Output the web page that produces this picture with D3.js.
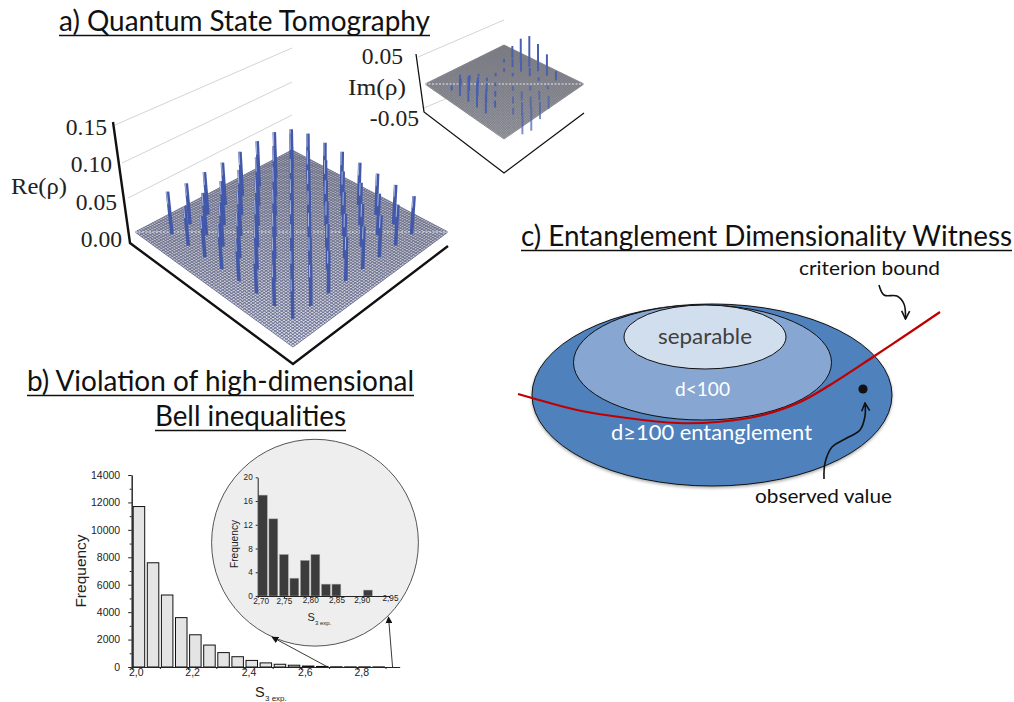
<!DOCTYPE html>
<html>
<head>
<meta charset="utf-8">
<script src="https://cdn.jsdelivr.net/npm/d3@7"></script>
<style>
  html, body { margin: 0; padding: 0; background: #fff; }
  svg { display: block; }
  .hist .domain, .hist line { stroke: #222; }
  .hist text { font-family: "Liberation Sans", sans-serif; fill: #222; }
</style>
</head>
<body>
<svg id="chart" width="1014" height="702"></svg>
<script>
// a) tomography, rows run from the front corner to the left corner, columns to the right corner
const reTicks = [0, 0.05, 0.10, 0.15];
const reValues = [
  [0.052, 0.054, 0.056, 0.058, 0.056, 0.055, 0.054, 0.050],
  [0.054, 0.056, 0.058, 0.060, 0.058, 0.056, 0.055, 0.052],
  [0.056, 0.058, 0.060, 0.060, 0.060, 0.058, 0.056, 0.054],
  [0.056, 0.060, 0.060, 0.062, 0.060, 0.060, 0.058, 0.056],
  [0.060, 0.060, 0.062, 0.062, 0.062, 0.060, 0.060, 0.058],
  [0.054, 0.058, 0.060, 0.062, 0.064, 0.062, 0.060, 0.058],
  [0.052, 0.056, 0.058, 0.060, 0.064, 0.066, 0.070, 0.058],
  [0.056, 0.054, 0.056, 0.056, 0.058, 0.060, 0.060, 0.052]
];
const imTicks = [-0.05, 0.05];
const imValues = [
  [0.000, 0.000, -0.036, -0.040, -0.030, -0.022, 0.000, 0.000],
  [0.000, 0.000, -0.012, -0.022, -0.020, -0.016, -0.006, 0.016],
  [0.034, 0.012, 0.000, -0.012, -0.016, -0.008, 0.006, 0.037],
  [0.043, 0.022, 0.010, 0.000, -0.008, 0.000, 0.014, 0.047],
  [0.043, 0.030, 0.014, 0.006, 0.000, 0.006, 0.018, 0.053],
  [0.037, 0.026, 0.016, 0.006, 0.006, 0.006, 0.014, 0.041],
  [0.009, 0.012, 0.010, 0.004, 0.000, 0.000, 0.006, 0.021],
  [0.000, 0.000, 0.000, 0.000, 0.000, 0.000, 0.000, 0.000]
];

// b) histograms
const histBins = [2.0, 2.05, 2.1, 2.15, 2.2, 2.25, 2.3, 2.35, 2.4, 2.45, 2.5, 2.55, 2.6, 2.65, 2.7, 2.75, 2.8, 2.85];
const histCounts = [11700, 7600, 5250, 3600, 2350, 1600, 1050, 750, 480, 300, 200, 130, 70, 40, 15, 10, 10, 8];
const insetBins = [2.70, 2.72, 2.74, 2.76, 2.78, 2.80, 2.82, 2.84, 2.86, 2.88, 2.90];
const insetCounts = [17, 13, 7, 3, 6, 7, 2, 2, 0, 0, 1];
const insetTicks = [2.70, 2.75, 2.80, 2.85, 2.90, 2.95];

// c) witness diagram, in page units
const setNames = ["outer", "middle", "inner"];
const setCx = [712, 702.5, 705];
const setCy = [395, 362.5, 337];
const setRx = [180, 129, 81];
const setRy = [91, 57.5, 32];
const setFill = ["#4f81bd", "#87a6d1", "#d1deee"];
const boundX = [518, 532, 577, 627, 677, 717, 763, 800, 830, 873, 903, 940];
const boundY = [394, 398, 410, 418, 423, 422, 415, 402, 385, 357, 337, 312];

const svg = d3.select("#chart");
const defs = svg.append("defs");
defs.append("filter").attr("id", "soft").append("feGaussianBlur").attr("stdDeviation", 0.4);
const shadow = defs.append("filter").attr("id", "shadow")
  .attr("x", "-5%").attr("y", "-5%").attr("width", "110%").attr("height", "115%");
shadow.append("feDropShadow").attr("dx", 0).attr("dy", 1.5).attr("stdDeviation", 1.5).attr("flood-opacity", 0.35);
const shade = defs.append("linearGradient").attr("id", "floorShade").attr("x1", 0).attr("y1", 0).attr("x2", 0).attr("y2", 1);
shade.append("stop").attr("offset", "0%").attr("stop-color", "#6f6f78").attr("stop-opacity", 0.5);
shade.append("stop").attr("offset", "100%").attr("stop-color", "#6f6f78").attr("stop-opacity", 0);
defs.append("marker").attr("id", "head").attr("viewBox", "0 0 10 10").attr("refX", 9).attr("refY", 5)
  .attr("markerWidth", 7).attr("markerHeight", 7).attr("markerUnits", "userSpaceOnUse").attr("orient", "auto")
  .append("path").attr("d", "M0,0L10,5L0,10Z").attr("fill", "#111");
defs.append("marker").attr("id", "open").attr("viewBox", "0 0 10 10").attr("refX", 9).attr("refY", 5)
  .attr("markerWidth", 10).attr("markerHeight", 10).attr("markerUnits", "userSpaceOnUse").attr("orient", "auto")
  .append("path").attr("d", "M1,1L9,5L1,9").attr("fill", "none").attr("stroke", "#111").attr("stroke-width", 1.6);

const sans = "Lato, sans-serif";
const serif = "'Liberation Serif', serif";

function label(text, x, y, width, size, fill, font) {
  return svg.append("text").attr("x", x).attr("y", y)
    .attr("textLength", width).attr("lengthAdjust", "spacingAndGlyphs")
    .attr("font-family", font || sans).attr("font-size", size).attr("fill", fill || "#111")
    .text(text);
}
function title(text, x0, x1, y) {
  label(text, x0, y, x1 - x0, 28, "#111");
  svg.append("line").attr("x1", x0).attr("x2", x1).attr("y1", y + 4.5).attr("y2", y + 4.5)
    .attr("stroke", "#111").attr("stroke-width", 1.5);
}

title("a) Quantum State Tomography", 59, 430, 31);
title("b) Violation of high-dimensional", 27, 414, 391);
title("Bell inequalities", 155, 346, 426);
title("c) Entanglement Dimensionality Witness", 521, 1012, 246);

// flat blend of the four floor corners: (0,0)=F, (1,0)=L, (1,1)=B, (0,1)=R
function flatMap(F, L, R, B) {
  const near = d3.scaleLinear().domain([0, 1]).range([F, L]);
  const far = d3.scaleLinear().domain([0, 1]).range([R, B]);
  return (s, t) => d3.interpolate(near(s), far(s))(t);
}
// the same corners through a perspective map
function depthMap(F, L, R, B) {
  const sx = F[0] - L[0] + B[0] - R[0], sy = F[1] - L[1] + B[1] - R[1];
  const dx1 = L[0] - B[0], dy1 = L[1] - B[1], dx2 = R[0] - B[0], dy2 = R[1] - B[1];
  const det = dx1 * dy2 - dx2 * dy1;
  const g = (sx * dy2 - dx2 * sy) / det, h = (dx1 * sy - sx * dy1) / det;
  return (s, t) => {
    const w = g * s + h * t + 1;
    return [
      ((L[0] - F[0] + g * L[0]) * s + (R[0] - F[0] + h * R[0]) * t + F[0]) / w,
      ((L[1] - F[1] + g * L[1]) * s + (R[1] - F[1] + h * R[1]) * t + F[1]) / w
    ];
  };
}

function drawPlot(o) {
  const g = svg.append("g");
  const at = flatMap(o.F, o.L, o.R, o.B);
  const deep = depthMap(o.F, o.L, o.R, o.B);
  const lift = d3.scaleLinear().domain([0, 0.05]).range([0, o.pxPer005]);
  const line = d3.line();

  // faint back wall lines
  g.selectAll(".wall").data(o.walls).join("line")
    .attr("x1", d => d[0][0]).attr("y1", d => d[0][1])
    .attr("x2", d => d[1][0]).attr("y2", d => d[1][1])
    .attr("stroke", "#d4d4d4").attr("stroke-width", 1);

  // axis frame
  g.append("path").attr("d", line(o.frame)).attr("fill", "none")
    .attr("stroke", "#111").attr("stroke-width", o.frameWidth);

  const mesh = g.append("g").attr("filter", "url(#soft)");
  const outline = line([o.F, o.L, o.B, o.R]) + "Z";
  mesh.append("path").attr("d", outline).attr("fill", o.floorFill);
  const steps = d3.range(0, 1.0001, 1 / o.cells);
  steps.forEach(a => {
    mesh.append("path").attr("d", line([at(a, 0), at(a, 1)]))
      .attr("stroke", o.meshColor).attr("stroke-width", o.meshWidth).attr("fill", "none");
    mesh.append("path").attr("d", line([at(0, a), at(1, a)]))
      .attr("stroke", o.meshColor).attr("stroke-width", o.meshWidth).attr("fill", "none");
  });
  mesh.append("path").attr("d", outline).attr("fill", "url(#floorShade)");
  // pale dotted seam across the middle of the floor
  mesh.append("path").attr("d", line([o.L, o.R]))
    .attr("stroke", "#e8e8ee").attr("stroke-width", o.seamWidth).attr("stroke-dasharray", "2 1.5").attr("fill", "none");

  const pos = d3.scaleLinear().domain([0, 7]).range([0.115, 0.88]);
  const spikes = [];
  o.values.forEach((row, i) => row.forEach((v, j) => { if (v !== 0) spikes.push({ i, j, v }); }));
  spikes.sort((a, b) => (b.i + b.j) - (a.i + a.j));

  const spikeG = g.append("g").attr("filter", "url(#soft)");
  spikes.forEach(d => {
    const p = d3.interpolate(at(pos(d.i), pos(d.j)), deep(pos(d.i), pos(d.j)))(0.5);
    const top = [p[0] + (p[0] - o.leanCx) * o.lean * (lift(d.v) / 43), p[1] - lift(d.v)];
    spikeG.append("path").attr("d", line([p, top]))
      .attr("stroke", o.spikeColor).attr("stroke-width", o.spikeWidth)
      .attr("stroke-opacity", d.v < 0 ? 0.7 : 1).attr("fill", "none");
    if (o.highlight) {
      const mid = [p[0] * 0.3 + top[0] * 0.7 - 1, p[1] * 0.3 + top[1] * 0.7];
      spikeG.append("path").attr("d", line([[top[0] - 1, top[1]], mid]))
        .attr("stroke", "#b4bee0").attr("stroke-width", 0.9).attr("fill", "none");
    }
  });
}

drawPlot({
  values: reValues, F: [293, 347], L: [135, 232], R: [448, 232], B: [292, 150],
  frame: [[113, 122], [130, 243], [293, 364], [448, 246]], frameWidth: 2.4,
  walls: [[[115, 125], [292, 48]], [[122, 163], [292, 82]], [[128, 198], [292, 115]]],
  pxPer005: 38, cells: 72, meshColor: "#5d648c", meshWidth: 0.85, floorFill: "#dcdde6", seamWidth: 1,
  spikeColor: "#4358a8", spikeWidth: 3.6, lean: 0.031, leanCx: 320, highlight: true
});
drawPlot({
  values: imValues, F: [504, 139], L: [425, 84], R: [584, 84], B: [504, 45],
  frame: [[416, 54], [424, 112], [504, 173], [584, 113]], frameWidth: 1.3,
  walls: [[[418, 57], [504, 20]], [[424, 108], [504, 74]]],
  pxPer005: 29, cells: 64, meshColor: "#777880", meshWidth: 0.7, floorFill: "#b9bac4", seamWidth: 1.2,
  spikeColor: "#4a5fb0", spikeWidth: 2, lean: 0, leanCx: 504, highlight: false
});

// serif tick labels beside the tilted axes
const tickText = d => d3.format(".2f")(d).replace("−", "-");
const reLabelPos = d3.scaleLinear().domain([0, 0.15]).range([[122, 247], [107, 135]]);
reTicks.forEach(v => {
  const p = reLabelPos(v);
  svg.append("text").attr("x", p[0]).attr("y", p[1]).attr("text-anchor", "end")
    .attr("font-family", serif).attr("font-size", 23.6).attr("fill", "#222").text(tickText(v));
});
label("Re(ρ)", 11, 194, 56, 23.6, "#222", serif);
const imLabelPos = d3.scaleLinear().domain([-0.05, 0.05]).range([[419, 126], [403, 64]]);
imTicks.forEach(v => {
  const p = imLabelPos(v);
  svg.append("text").attr("x", p[0]).attr("y", p[1]).attr("text-anchor", "end")
    .attr("font-family", serif).attr("font-size", 23.6).attr("fill", "#222").text(tickText(v));
});
label("Im(ρ)", 348, 95, 58, 23.6, "#222", serif);

// main histogram
const comma = f => d => d3.format(f)(d).replace(".", ",");
const x = d3.scaleLinear().domain([2.0, 2.95]).range([131.7, 399.6]);
const y = d3.scaleLinear().domain([0, 14000]).range([667, 475]);
const hist = svg.append("g").attr("class", "hist");
hist.selectAll("rect").data(histBins).join("rect")
  .attr("x", d => x(d) + 1.5).attr("width", x(2.05) - x(2.0) - 2.6)
  .attr("y", (d, i) => y(histCounts[i])).attr("height", (d, i) => y(0) - y(histCounts[i]))
  .attr("fill", "#e4e4e4").attr("stroke", "#111").attr("stroke-width", 1);
const xAxis = hist.append("g").attr("transform", `translate(0,${y(0)})`)
  .call(d3.axisBottom(x).tickValues([2.0, 2.2, 2.4, 2.6, 2.8]).tickFormat(comma(".1f")).tickSize(3).tickSizeOuter(0));
xAxis.selectAll("text").attr("font-size", 10.5).attr("dx", 4).attr("dy", 3);
hist.append("g").attr("transform", `translate(0,${y(0)})`)
  .call(d3.axisBottom(x).tickValues(d3.range(2.1, 2.95, 0.2)).tickFormat("").tickSize(2).tickSizeOuter(0));
const yAxis = hist.append("g").attr("transform", `translate(${x(2.0)},0)`)
  .call(d3.axisLeft(y).tickValues(d3.range(0, 14001, 2000)).tickFormat(d3.format("d")).tickSize(3.5).tickPadding(8).tickSizeOuter(0));
yAxis.selectAll("text").attr("font-size", 10.5);
hist.append("g").attr("transform", `translate(${x(2.0)},0)`)
  .call(d3.axisLeft(y).tickValues(d3.range(1000, 14000, 2000)).tickFormat("").tickSize(2).tickSizeOuter(0));
hist.append("text").attr("transform", "translate(86,571) rotate(-90)").attr("text-anchor", "middle")
  .attr("font-size", 15.5).text("Frequency");
hist.append("text").attr("x", 255).attr("y", 697).attr("font-size", 14.5).text("S");
hist.append("text").attr("x", 265).attr("y", 701).attr("font-size", 8).text("3 exp.");

// magnifier circle and inset histogram
hist.append("circle").attr("cx", 315).attr("cy", 542.7).attr("r", 103.4)
  .attr("fill", "#eeeeee").attr("stroke", "#555").attr("stroke-width", 1);
const ix = d3.scaleLinear().domain([2.70, 2.95]).range([257.7, 389]);
const iy = d3.scaleLinear().domain([0, 20]).range([596, 477.3]);
hist.append("g").selectAll("rect").data(insetBins).join("rect")
  .attr("x", d => ix(d) + 0.7).attr("width", ix(2.72) - ix(2.70) - 1.6)
  .attr("y", (d, i) => iy(insetCounts[i])).attr("height", (d, i) => iy(0) - iy(insetCounts[i]))
  .attr("fill", "#3c3c3c").attr("stroke", "#aaa").attr("stroke-width", 0.5);
const ixAxis = hist.append("g").attr("transform", `translate(0,${iy(0)})`)
  .call(d3.axisBottom(ix).tickValues(insetTicks).tickFormat(comma(".2f")).tickSize(2).tickSizeOuter(0));
ixAxis.selectAll("text").attr("font-size", 8.2);
ixAxis.selectAll("text").attr("dx", (d, i) => [3, 0, 0, 0, -1, 1][i]).attr("dy", (d, i) => [3, 3, 2, 2, 2, 0][i]);
const iyAxis = hist.append("g").attr("transform", `translate(${ix(2.70)},0)`)
  .call(d3.axisLeft(iy).tickValues(d3.range(0, 21, 4)).tickSize(2).tickPadding(3).tickSizeOuter(0));
iyAxis.selectAll("text").attr("font-size", 8.2);
hist.append("text").attr("transform", "translate(238,544) rotate(-90)").attr("text-anchor", "middle")
  .attr("font-size", 10.2).text("Frequency");
hist.append("text").attr("x", 307.5).attr("y", 621).attr("font-size", 11).text("S");
hist.append("text").attr("x", 315).attr("y", 624.5).attr("font-size", 6).text("3 exp.");

// zoom arrows from the main axis up to the circle
hist.append("path").attr("d", d3.line()([[x(2.695), y(0)], [272, 637]]))
  .attr("stroke", "#222").attr("fill", "none").attr("stroke-width", 0.9).attr("marker-end", "url(#head)");
hist.append("path").attr("d", d3.line()([[x(2.925), y(0)], [388.5, 617]]))
  .attr("stroke", "#222").attr("fill", "none").attr("stroke-width", 0.9).attr("marker-end", "url(#head)");

// c) nested sets
const sets = svg.append("g");
sets.selectAll("ellipse").data(setNames).join("ellipse")
  .attr("cx", (d, i) => setCx[i]).attr("cy", (d, i) => setCy[i])
  .attr("rx", (d, i) => setRx[i]).attr("ry", (d, i) => setRy[i])
  .attr("fill", (d, i) => setFill[i]).attr("stroke", "#111").attr("stroke-width", 1)
  .attr("filter", (d, i) => i === 0 ? "url(#shadow)" : null);

label("separable", 658, 344, 94, 22, "#404040");
label("d<100", 675, 396, 55, 20, "#fff");
label("d≥100 entanglement", 611, 440, 201, 22, "#fff");
label("criterion bound", 799, 275, 141, 19.5, "#111");
label("observed value", 755, 503, 137, 19.5, "#111");

const curve = d3.line().curve(d3.curveCatmullRom.alpha(0.5));
sets.append("path").attr("d", curve(boundX.map((d, i) => [d, boundY[i]])))
  .attr("fill", "none").attr("stroke", "#c00000").attr("stroke-width", 2.2);

const criterionArrow = [[879, 285], [884, 295], [897, 296], [904, 304], [905.5, 319]];
const observedArrow = [[824, 479], [825, 463], [832, 447], [845, 439], [860, 430], [865, 416], [865, 403]];
sets.append("path").attr("d", curve(criterionArrow)).attr("fill", "none")
  .attr("stroke", "#111").attr("stroke-width", 1.6).attr("marker-end", "url(#open)");
sets.append("path").attr("d", curve(observedArrow)).attr("fill", "none")
  .attr("stroke", "#111").attr("stroke-width", 1.6).attr("marker-end", "url(#open)");
sets.append("circle").attr("cx", 863).attr("cy", 389).attr("r", 4.6).attr("fill", "#111");
</script>
</body>
</html>
